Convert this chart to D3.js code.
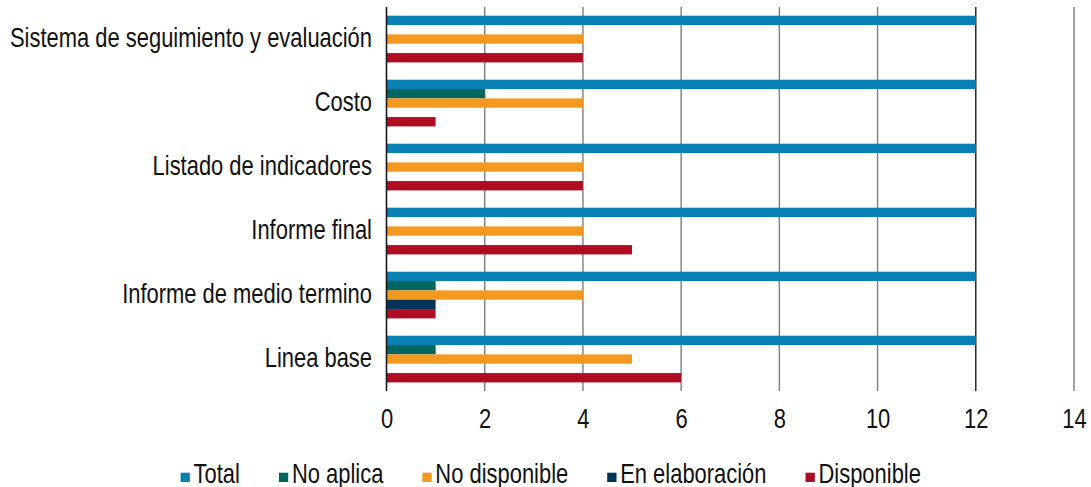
<!DOCTYPE html>
<html lang="es">
<head>
<meta charset="utf-8">
<title>Instrumentos</title>
<script src="https://cdn.jsdelivr.net/npm/d3@7"></script>
<style>
  body { margin: 0; background: #fff; }
  text { font-family: "Liberation Sans Narrow", "Arial Narrow", "Liberation Sans", sans-serif; fill: #111; }
</style>
</head>
<body>
<script>
var w = 1091, h = 487;

// data, top group first
var categories = ["Sistema de seguimiento y evaluación", "Costo", "Listado de indicadores",
                  "Informe final", "Informe de medio termino", "Linea base"];
var seriesNames = ["Total", "No aplica", "No disponible", "En elaboración", "Disponible"];
var total         = [12, 12, 12, 12, 12, 12];
var noAplica      = [0, 2, 0, 0, 1, 1];
var noDisponible  = [4, 4, 4, 4, 4, 5];
var enElaboracion = [0, 0, 0, 0, 1, 0];
var disponible    = [4, 1, 4, 5, 1, 6];
var tickValues = [0, 2, 4, 6, 8, 10, 12, 14];

var colors = ["#0a80b2", "#00665f", "#f3991f", "#00345a", "#b00d25"];
var seriesValues = [total, noAplica, noDisponible, enElaboracion, disponible];

var fontSize = 28;
var longLabelWidth = 362; // width of the longest label in the original condensed face

var x = d3.scaleLinear().domain([0, 14]).range([386.5, 1074]);
var y0 = d3.scaleBand().domain(categories).range([7, 391]);
var y1 = d3.scaleBand().domain(seriesNames).range([8.7, 55.4]);
var color = d3.scaleOrdinal().domain(seriesNames).range(colors);

var svg = d3.select("body").append("svg")
    .attr("width", w)
    .attr("height", h);

// gridlines
svg.append("g").selectAll("line")
    .data(tickValues.filter(function (d) { return d > 0; }))
    .enter().append("line")
    .attr("x1", function (d) { return x(d); })
    .attr("x2", function (d) { return x(d); })
    .attr("y1", y0.range()[0])
    .attr("y2", y0.range()[1])
    .attr("stroke", function (d) { return d === 12 ? "#1a1a1a" : "#7d7d7d"; })
    .attr("stroke-width", 1.4);

// bars
var rows = [];
categories.forEach(function (c, i) {
    seriesNames.forEach(function (s, j) {
        rows.push({ cat: c, series: s, value: seriesValues[j][i] });
    });
});

svg.append("g").selectAll("rect")
    .data(rows.filter(function (d) { return d.value > 0; }))
    .enter().append("rect")
    .attr("x", x(0))
    .attr("y", function (d) { return y0(d.cat) + y1(d.series); })
    .attr("width", function (d) { return x(d.value) - x(0); })
    .attr("height", y1.bandwidth())
    .attr("fill", function (d) { return color(d.series); });

// axis line at zero
svg.append("line")
    .attr("x1", x(0)).attr("x2", x(0))
    .attr("y1", y0.range()[0]).attr("y2", y0.range()[1])
    .attr("stroke", "#1a1a1a")
    .attr("stroke-width", 1.6);

// x tick labels
var xAxis = svg.append("g")
    .attr("transform", "translate(0," + y0.range()[1] + ")")
    .call(d3.axisBottom(x).tickValues(tickValues).tickSize(0).tickPadding(17).tickFormat(d3.format("d")));
xAxis.select(".domain").remove();
xAxis.attr("font-family", null).attr("font-size", null);
xAxis.selectAll("text").attr("font-size", fontSize);

// category labels
var catLabels = svg.append("g").selectAll("text")
    .data(categories)
    .enter().append("text")
    .attr("x", x(0) - 14.5)
    .attr("y", function (d) { return y0(d) + y0.bandwidth() / 2 + 8; })
    .attr("text-anchor", "end")
    .attr("font-size", fontSize)
    .text(function (d) { return d; });

// how much to narrow the installed font to match the condensed original
var squeeze = longLabelWidth / catLabels.node().getComputedTextLength();

function condense(sel) {
    sel.each(function () {
        var len = this.getComputedTextLength();
        d3.select(this)
          .attr("textLength", len * squeeze)
          .attr("lengthAdjust", "spacingAndGlyphs");
    });
}
catLabels.call(condense);
xAxis.selectAll("text").call(condense);

// legend
var legend = svg.append("g").attr("transform", "translate(180.6,0)");
var items = legend.selectAll("g")
    .data(seriesNames)
    .enter().append("g");
items.append("rect")
    .attr("y", 472.7)
    .attr("width", 9.3)
    .attr("height", 9.3)
    .attr("fill", function (d) { return color(d); });
items.append("text")
    .attr("x", 13)
    .attr("y", 483)
    .attr("font-size", fontSize)
    .text(function (d) { return d; })
    .call(condense);

var gap = 39;
var pos = 0;
items.each(function () {
    var tw = +d3.select(this).select("text").attr("textLength");
    d3.select(this).attr("transform", "translate(" + pos + ",0)");
    pos += 13 + tw + gap;
});
</script>
</body>
</html>
